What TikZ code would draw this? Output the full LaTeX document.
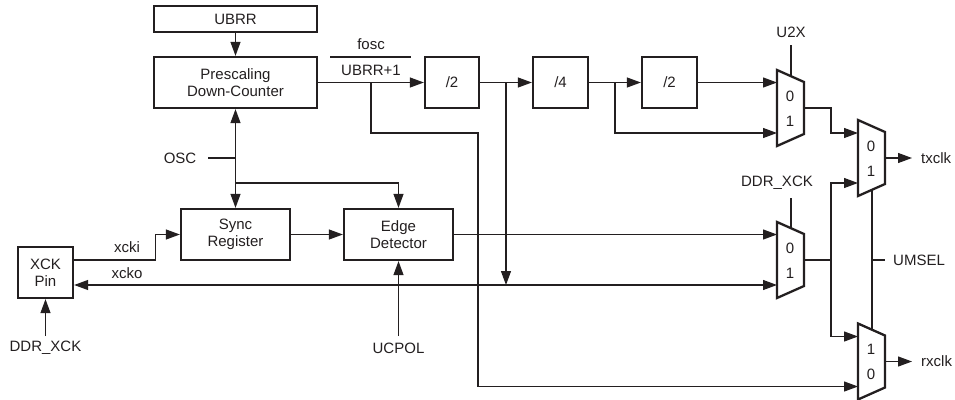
\documentclass[tikz,border=0pt]{standalone}
\usepackage{fontspec}
\setmainfont{Liberation Sans}
\usetikzlibrary{arrows.meta}
\definecolor{ink}{HTML}{231F20}
\newcommand\dfont{\fontsize{15pt}{17pt}\selectfont}
\tikzset{
  x=1pt, y=-1pt,
  >={Triangle[length=14pt,width=10pt]},
  conn/.style={line width=1.2pt},
  box/.style={draw, line width=2.3pt, minimum width=#1, minimum height=51pt,
              inner sep=0pt, align=center, font=\dfont},
  box/.default=55pt,
  lab/.style={inner sep=0pt, font=\dfont},
  pics/mux/.style args={#1/#2}{code={
    \draw[line width=2.3pt, line join=miter] (0,-38) -- (27,-26) -- (27,26) -- (0,38) -- cycle;
    \coordinate (-a) at (0,-25);
    \coordinate (-b) at (0,25);
    \coordinate (-o) at (27,0);
    \coordinate (-sel) at (14,-31.8);
    \coordinate (-bot) at (14,31.8);
    \node[lab] (-la) at (13,-12) {#1};
    \node[lab] (-lb) at (13,13) {#2};
  }}
}
\begin{document}
\begin{tikzpicture}[color=ink]
\fill[white] (0,0) rectangle (955,399);
\useasboundingbox (0,0) rectangle (955,399);

% boxes
\node[box=163pt, minimum height=26pt] (ubrr) at (235.5,19) {UBRR};
\node[box=163pt] (pre) at (235.5,82.5) {Prescaling\\Down-Counter};
\node[box=54pt] (d2a) at (452,82.5) {/2};
\node[box=55pt] (d4) at (560.5,82.5) {/4};
\node[box=55pt] (d2b) at (669.5,82.5) {/2};
\node[box=109pt] (sync) at (235.5,234.5) {Sync\\Register};
\node[box=109pt] (edet) at (398.5,234.5) {Edge\\Detector};
\node[box=55pt] (xck) at (45.5,272.5) {XCK\\Pin};

% muxes
\pic (umux) at (777,108) {mux=0/1};
\pic (dmux) at (777,260) {mux=0/1};
\pic (tmux) at (858,158) {mux=0/1};
\pic (rmux) at (858,361.5) {mux=1/0};

% labels
\node[lab] (osc) at (180,158) {OSC};
\node[lab] (fosc) at (371,44) {fosc};
\node[lab] (ubrr1) at (371,70) {UBRR+1};
\node[lab] (xcki) at (127,247) {xcki};
\node[lab] (xcko) at (127,273) {xcko};
\node[lab] (ddrl) at (45.5,348) {DDR\_XCK};
\node[lab] (ucpol) at (398.5,348) {UCPOL};
\node[lab] (u2x) at (791,32) {U2X};
\node[lab] (ddrx) at (777,183) {DDR\_XCK};
\node[lab, anchor=west] (umsel) at (893,260) {UMSEL};
\node[lab, anchor=west] (txclk) at (921,158) {txclk};
\node[lab, anchor=west] (rxclk) at (921,361.5) {rxclk};

% fraction bar
\draw[conn] (330,57) -- (411,57);

% coordinates
\coordinate (oscl) at (208,158);
\coordinate (oscj) at (235.5,158);
\coordinate (j183) at (235.5,183);
\coordinate (b371) at (371,82.5);
\coordinate (b371d) at (371,133);
\coordinate (c478) at (478,133);
\coordinate (b506) at (506,82.5);
\coordinate (b615) at (615,82.5);
\coordinate (v831) at (831,260);
\coordinate (txe) at (912,158);
\coordinate (rxe) at (912,361.5);
\coordinate (u2xl) at (791,45);
\coordinate (ddrxl) at (791,198);
\coordinate (um) at (872,260);
\coordinate (umt) at (885,260);
\coordinate (ucp) at (398.5,336);
\coordinate (ddrt) at (45.5,336);

% connectors
\begin{scope}[conn]
\draw[->] (ubrr) -- (pre);
\draw (oscl) -- (oscj);
\draw[->] (oscj) -- (pre.south);
\draw[->] (oscj) -- (sync.north);
\draw[->] (j183) -| (edet.north);
\draw[->] (sync) -- (edet);
\draw[->] ([yshift=12.5pt]xck.east) -- ++(81,0) |- (sync.west);
\draw[<->] ([yshift=-12.5pt]xck.east) -- (dmux-b);
\draw[->] (ddrt) -- (xck.south);
\draw[->] (ucp) -- (edet.south);
\draw[->] (pre.east) -- (d2a.west);
\draw[->] (b371) -- (b371d) -- (c478) |- (rmux-b);
\draw[->] (d2a) -- (d4);
\draw[->] (b506) -- (b506 |- dmux-b);
\draw[->] (d4) -- (d2b);
\draw[->] (b615) |- (umux-b);
\draw[->] (d2b.east) -- (d2b.east -| umux-a);
\draw[->] (edet.east) -- (edet.east -| dmux-a);
\draw[->] (umux-o) -- ++(27,0) |- (tmux-a);
\draw (dmux-o) -- (v831);
\draw[->] (v831) |- (tmux-b);
\draw[->] (v831) |- (rmux-a);
\draw[->] (tmux-o) -- (txe);
\draw[->] (rmux-o) -- (rxe);
\draw (u2xl) -- (umux-sel);
\draw (ddrxl) -- (dmux-sel);
\draw (tmux-bot) -- (rmux-sel);
\draw (um) -- (umt);
\end{scope}
\end{tikzpicture}
\end{document}
